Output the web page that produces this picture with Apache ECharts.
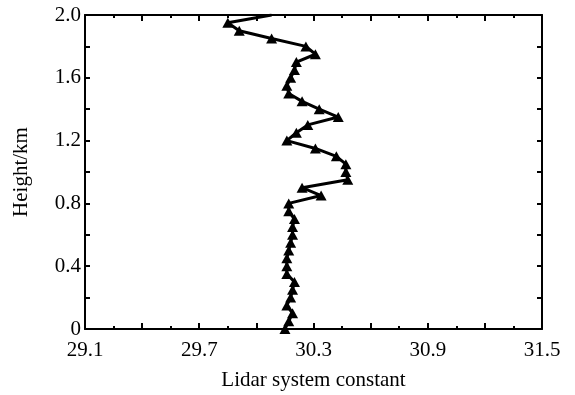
<!DOCTYPE html>
<html>
<head>
<meta charset="utf-8">
<script src="https://cdn.jsdelivr.net/npm/echarts@6/dist/echarts.min.js"></script>
<style>
  html, body { margin: 0; padding: 0; background: #fff; }
  #chart { width: 575px; height: 395px; }
</style>
</head>
<body>
<div id="chart"></div>
<script>
// heights (km), one point every 0.05 km
const heights = [0, 0.05, 0.1, 0.15, 0.2, 0.25, 0.3, 0.35, 0.4, 0.45, 0.5, 0.55, 0.6, 0.65, 0.7, 0.75, 0.8, 0.85, 0.9, 0.95,
  1.0, 1.05, 1.1, 1.15, 1.2, 1.25, 1.3, 1.35, 1.4, 1.45, 1.5, 1.55, 1.6, 1.65, 1.7, 1.75, 1.8, 1.85, 1.9, 1.95, 2.0];
// lidar system constant
const constants = [30.15, 30.17, 30.19, 30.16, 30.18, 30.19, 30.2, 30.16, 30.16, 30.16, 30.17, 30.18, 30.19, 30.19, 30.2, 30.17,
  30.17, 30.34, 30.24, 30.48, 30.47, 30.47, 30.42, 30.31, 30.16, 30.21, 30.27, 30.43, 30.33, 30.24, 30.17, 30.16,
  30.18, 30.2, 30.21, 30.31, 30.26, 30.08, 29.91, 29.85, 30.08];

const xLabels = [29.1, 29.7, 30.3, 30.9, 31.5];
const yLabels = [0, 0.4, 0.8, 1.2, 1.6, 2.0];

const font = "'Liberation Serif', 'Times New Roman', serif";
const black = "#000";

const near = (v, list) => list.some((t) => Math.abs(t - v) < 1e-6);

const points = heights.map((h, i) => {
  const item = { value: [constants[i], h] };
  if (h >= 2.0) item.symbol = "none"; // marker is cut off by the frame in the original
  return item;
});

const xAxisBase = {
  type: "value",
  min: 29.1,
  max: 31.5,
  interval: 0.3,
  axisLine: { show: true, onZero: false, lineStyle: { color: black, width: 2 } },
  axisTick: { show: true, inside: true, length: 6, lineStyle: { color: black, width: 2 } },
  minorTick: { show: true, splitNumber: 2, length: 3, lineStyle: { color: black, width: 2 } },
  splitLine: { show: false }
};

const yAxisBase = {
  type: "value",
  min: 0,
  max: 2.0,
  interval: 0.2,
  axisLine: { show: true, onZero: false, lineStyle: { color: black, width: 2 } },
  axisTick: { show: true, inside: true, length: 5, lineStyle: { color: black, width: 2 } },
  splitLine: { show: false }
};

const chart = echarts.init(document.getElementById("chart"), null, { renderer: "canvas" });
chart.setOption({
  animation: false,
  backgroundColor: "#fff",
  grid: { left: 85, right: 33, top: 15, bottom: 66, containLabel: false, outerBoundsMode: "none" },
  xAxis: [
    Object.assign({}, xAxisBase, {
      position: "bottom",
      name: "Lidar system constant",
      nameLocation: "middle",
      nameGap: 41,
      nameTextStyle: { color: black, fontSize: 21, fontFamily: font },
      axisLabel: {
        color: black,
        fontSize: 21,
        fontFamily: font,
        margin: 11,
        formatter: (v) => (near(v, xLabels) ? v.toFixed(1) : "")
      }
    }),
    Object.assign({}, xAxisBase, { position: "top", axisLabel: { show: false } })
  ],
  yAxis: [
    Object.assign({}, yAxisBase, {
      position: "left",
      name: "Height/km",
      nameLocation: "middle",
      nameGap: 53,
      nameTextStyle: { color: black, fontSize: 21, fontFamily: font },
      axisLabel: {
        color: black,
        fontSize: 21,
        fontFamily: font,
        margin: 4,
        formatter: (v) => (near(v, yLabels) ? (v === 0 ? "0" : v.toFixed(1)) : "")
      }
    }),
    Object.assign({}, yAxisBase, { position: "right", axisLabel: { show: false } })
  ],
  series: [
    {
      type: "line",
      data: points,
      xAxisIndex: 0,
      yAxisIndex: 0,
      symbol: "triangle",
      symbolSize: [11, 10],
      itemStyle: { color: black },
      lineStyle: { color: black, width: 3 },
      clip: true
    }
  ]
});
</script>
</body>
</html>
